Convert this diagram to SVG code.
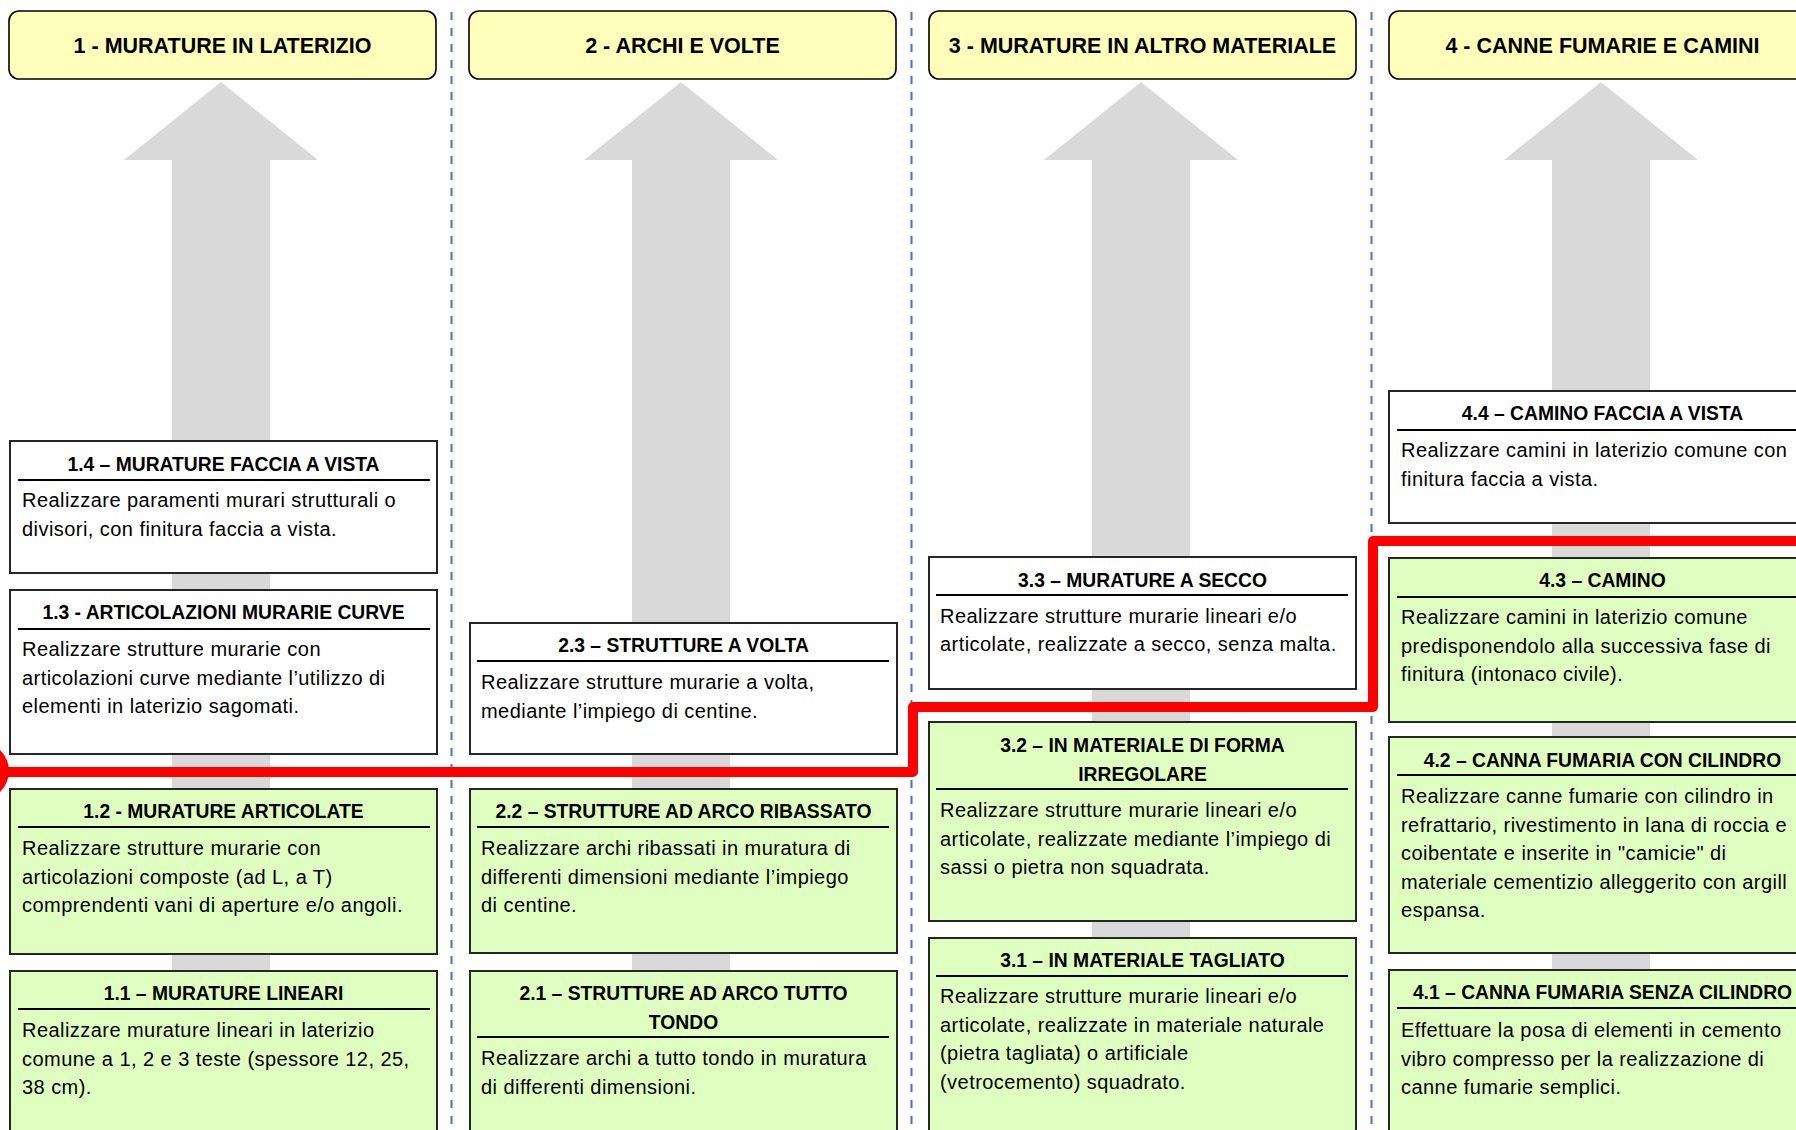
<svg xmlns="http://www.w3.org/2000/svg" width="1796" height="1130" viewBox="0 0 1796 1130">
<defs>
<style>
.hdr{fill:#FFFFBB;stroke:#000;stroke-width:1.6}
.hdrt{font-family:"Liberation Sans",Arial,sans-serif;font-weight:bold;font-size:21.5px;fill:#000;text-anchor:middle}
.arr{fill:#D9D9D9}
.div{stroke:#4472C4;stroke-width:2;stroke-dasharray:8 8;fill:none}
.bw{fill:#FFFFFF;stroke:#262626;stroke-width:2}
.bg{fill:#DFFFC0;stroke:#262626;stroke-width:2}
.ul{stroke:#000;stroke-width:2}
.tt{font-family:"Liberation Sans",Arial,sans-serif;font-weight:bold;font-size:19.3px;fill:#000;text-anchor:middle}
.bd{font-family:"Liberation Sans",Arial,sans-serif;font-size:20px;letter-spacing:0.45px;fill:#000}
.red{stroke:#FF0000;stroke-width:10;fill:none;stroke-linejoin:round}
</style>
</defs>
<rect width="1796" height="1130" fill="#FFFFFF"/>

<g id="arrows">
<path class="arr" d="M221,82 L318,160 L270,160 L270,1130 L172,1130 L172,160 L124,160 Z"/>
<path class="arr" d="M681,82 L778,160 L730,160 L730,1130 L632,1130 L632,160 L584,160 Z"/>
<path class="arr" d="M1141,82 L1238,160 L1190,160 L1190,1130 L1092,1130 L1092,160 L1044,160 Z"/>
<path class="arr" d="M1601,82 L1698,160 L1650,160 L1650,1130 L1552,1130 L1552,160 L1504,160 Z"/>
</g>

<g id="dividers">
<line class="div" x1="451.5" y1="12" x2="451.5" y2="1130"/>
<line class="div" x1="911.5" y1="12" x2="911.5" y2="1130"/>
<line class="div" x1="1371.5" y1="12" x2="1371.5" y2="1130"/>
</g>

<g id="h1"><rect class="hdr" x="9" y="11" width="427" height="68" rx="10"/><text class="hdrt" x="222.5" y="53">1 - MURATURE IN LATERIZIO</text></g>
<g id="h2"><rect class="hdr" x="469" y="11" width="427" height="68" rx="10"/><text class="hdrt" x="682.5" y="53">2 - ARCHI E VOLTE</text></g>
<g id="h3"><rect class="hdr" x="929" y="11" width="427" height="68" rx="10"/><text class="hdrt" x="1142.5" y="53">3 - MURATURE IN ALTRO MATERIALE</text></g>
<g id="h4"><rect class="hdr" x="1389" y="11" width="427" height="68" rx="10"/><text class="hdrt" x="1602.5" y="53">4 - CANNE FUMARIE E CAMINI</text></g>

<g id="n14"><rect class="bw" x="10" y="441" width="427" height="132"/>
<text class="tt" x="223.5" y="471">1.4 – MURATURE FACCIA A VISTA</text>
<line class="ul" x1="18" y1="480" x2="430" y2="480"/>
<text class="bd"><tspan x="22" y="507">Realizzare paramenti murari strutturali o</tspan><tspan x="22" y="535.5">divisori, con finitura faccia a vista.</tspan></text></g>

<g id="n13"><rect class="bw" x="10" y="590" width="427" height="164"/>
<text class="tt" x="223.5" y="619">1.3 - ARTICOLAZIONI MURARIE CURVE</text>
<line class="ul" x1="18" y1="629" x2="430" y2="629"/>
<text class="bd"><tspan x="22" y="656">Realizzare strutture murarie con</tspan><tspan x="22" y="684.5">articolazioni curve mediante l’utilizzo di</tspan><tspan x="22" y="713">elementi in laterizio sagomati.</tspan></text></g>

<g id="n12"><rect class="bg" x="10" y="789" width="427" height="165"/>
<text class="tt" x="223.5" y="818">1.2 - MURATURE ARTICOLATE</text>
<line class="ul" x1="18" y1="827" x2="430" y2="827"/>
<text class="bd"><tspan x="22" y="855">Realizzare strutture murarie con</tspan><tspan x="22" y="883.5">articolazioni composte (ad L, a T)</tspan><tspan x="22" y="912">comprendenti vani di aperture e/o angoli.</tspan></text></g>

<g id="n11"><rect class="bg" x="10" y="971" width="427" height="180"/>
<text class="tt" x="223.5" y="1000">1.1 – MURATURE LINEARI</text>
<line class="ul" x1="18" y1="1009" x2="430" y2="1009"/>
<text class="bd"><tspan x="22" y="1037">Realizzare murature lineari in laterizio</tspan><tspan x="22" y="1065.5">comune a 1, 2 e 3 teste (spessore 12, 25,</tspan><tspan x="22" y="1094">38 cm).</tspan></text></g>

<g id="n23"><rect class="bw" x="470" y="623" width="427" height="131"/>
<text class="tt" x="683.5" y="652">2.3 – STRUTTURE A VOLTA</text>
<line class="ul" x1="477" y1="661" x2="889" y2="661"/>
<text class="bd"><tspan x="481" y="689">Realizzare strutture murarie a volta,</tspan><tspan x="481" y="717.5">mediante l’impiego di centine.</tspan></text></g>

<g id="n22"><rect class="bg" x="470" y="789" width="427" height="164"/>
<text class="tt" x="683.5" y="818">2.2 – STRUTTURE AD ARCO RIBASSATO</text>
<line class="ul" x1="477" y1="827" x2="889" y2="827"/>
<text class="bd"><tspan x="481" y="855">Realizzare archi ribassati in muratura di</tspan><tspan x="481" y="883.5">differenti dimensioni mediante l’impiego</tspan><tspan x="481" y="912">di centine.</tspan></text></g>

<g id="n21"><rect class="bg" x="470" y="971" width="427" height="180"/>
<text class="tt"><tspan x="683.5" y="1000">2.1 – STRUTTURE AD ARCO TUTTO</tspan><tspan x="683.5" y="1029">TONDO</tspan></text>
<line class="ul" x1="477" y1="1037" x2="889" y2="1037"/>
<text class="bd"><tspan x="481" y="1065">Realizzare archi a tutto tondo in muratura</tspan><tspan x="481" y="1093.5">di differenti dimensioni.</tspan></text></g>

<g id="n33"><rect class="bw" x="929" y="557" width="427" height="132"/>
<text class="tt" x="1142.5" y="587">3.3 – MURATURE A SECCO</text>
<line class="ul" x1="936" y1="595" x2="1348" y2="595"/>
<text class="bd"><tspan x="940" y="623">Realizzare strutture murarie lineari e/o</tspan><tspan x="940" y="651">articolate, realizzate a secco, senza malta.</tspan></text></g>

<g id="n32"><rect class="bg" x="929" y="722" width="427" height="199"/>
<text class="tt"><tspan x="1142.5" y="752">3.2 – IN MATERIALE DI FORMA</tspan><tspan x="1142.5" y="781">IRREGOLARE</tspan></text>
<line class="ul" x1="936" y1="789" x2="1348" y2="789"/>
<text class="bd"><tspan x="940" y="817">Realizzare strutture murarie lineari e/o</tspan><tspan x="940" y="845.5">articolate, realizzate mediante l’impiego di</tspan><tspan x="940" y="874">sassi o pietra non squadrata.</tspan></text></g>

<g id="n31"><rect class="bg" x="929" y="938" width="427" height="210"/>
<text class="tt" x="1142.5" y="967">3.1 – IN MATERIALE TAGLIATO</text>
<line class="ul" x1="936" y1="976" x2="1348" y2="976"/>
<text class="bd"><tspan x="940" y="1003">Realizzare strutture murarie lineari e/o</tspan><tspan x="940" y="1031.5">articolate, realizzate in materiale naturale</tspan><tspan x="940" y="1060">(pietra tagliata) o artificiale</tspan><tspan x="940" y="1088.5">(vetrocemento) squadrato.</tspan></text></g>

<g id="n44"><rect class="bw" x="1389" y="391" width="427" height="132"/>
<text class="tt" x="1602.5" y="420">4.4 – CAMINO FACCIA A VISTA</text>
<line class="ul" x1="1397" y1="430" x2="1809" y2="430"/>
<text class="bd"><tspan x="1401" y="457">Realizzare camini in laterizio comune con</tspan><tspan x="1401" y="485.5">finitura faccia a vista.</tspan></text></g>

<g id="n43"><rect class="bg" x="1389" y="558" width="427" height="164"/>
<text class="tt" x="1602.5" y="587">4.3 – CAMINO</text>
<line class="ul" x1="1397" y1="597" x2="1809" y2="597"/>
<text class="bd"><tspan x="1401" y="624">Realizzare camini in laterizio comune</tspan><tspan x="1401" y="652.5">predisponendolo alla successiva fase di</tspan><tspan x="1401" y="681">finitura (intonaco civile).</tspan></text></g>

<g id="n42"><rect class="bg" x="1389" y="737" width="427" height="216"/>
<text class="tt" x="1602.5" y="767">4.2 – CANNA FUMARIA CON CILINDRO</text>
<line class="ul" x1="1397" y1="775" x2="1809" y2="775"/>
<text class="bd"><tspan x="1401" y="803">Realizzare canne fumarie con cilindro in</tspan><tspan x="1401" y="831.5">refrattario, rivestimento in lana di roccia e</tspan><tspan x="1401" y="860">coibentate e inserite in "camicie" di</tspan><tspan x="1401" y="888.5">materiale cementizio alleggerito con argill</tspan><tspan x="1401" y="917">espansa.</tspan></text></g>

<g id="n41"><rect class="bg" x="1389" y="970" width="427" height="180"/>
<text class="tt" x="1602.5" y="999">4.1 – CANNA FUMARIA SENZA CILINDRO</text>
<line class="ul" x1="1397" y1="1008" x2="1809" y2="1008"/>
<text class="bd"><tspan x="1401" y="1037">Effettuare la posa di elementi in cemento</tspan><tspan x="1401" y="1065.5">vibro compresso per la realizzazione di</tspan><tspan x="1401" y="1094">canne fumarie semplici.</tspan></text></g>

<g id="connectors">
<path class="red" d="M0,772 H913 V707 H1373 V541 H1810"/>
<circle cx="-20" cy="771" r="29" fill="#FF0000"/>
</g>
</svg>
